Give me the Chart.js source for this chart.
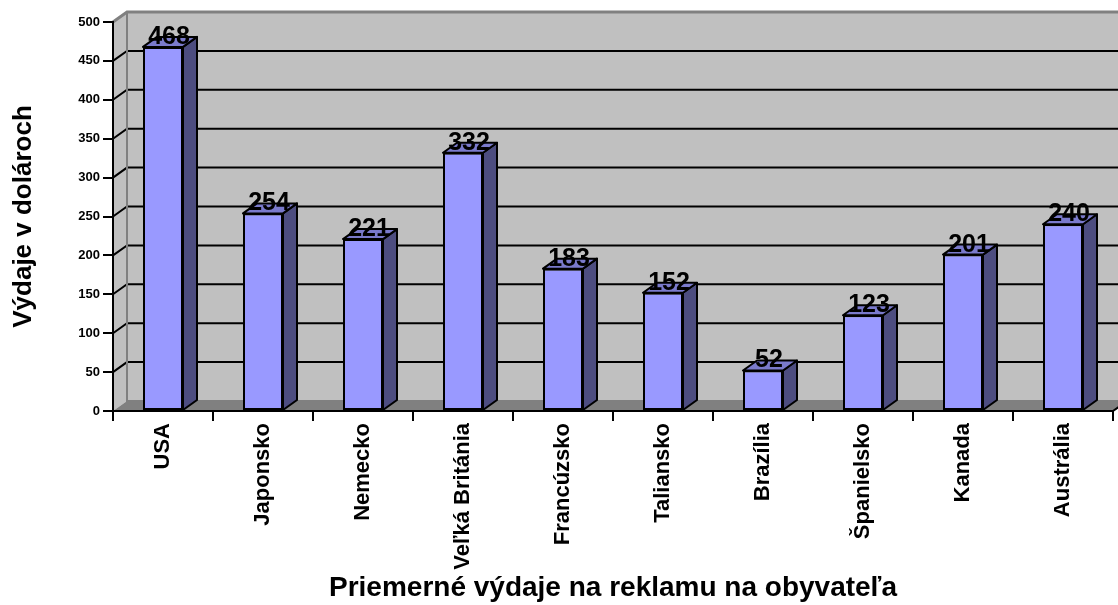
<!DOCTYPE html>
<html>
<head>
<meta charset="utf-8">
<title>Priemerné výdaje na reklamu</title>
<script src="https://cdn.jsdelivr.net/npm/chart.js@4"></script>
<style>
  body { margin: 0; background: #ffffff; }
  #wrap { width: 1118px; height: 605px; }
</style>
</head>
<body>
<div id="wrap"><canvas id="myChart" width="1118" height="605"></canvas></div>
<script>
// data
const krajiny = ["USA", "Japonsko", "Nemecko", "Veľká Británia", "Francúzsko", "Taliansko", "Brazília", "Španielsko", "Kanada", "Austrália"];
const vydaje = [468, 254, 221, 332, 183, 152, 52, 123, 201, 240];
const yMin = 0;
const yMax = 500;
const yKrok = 50;

const osX = "Priemerné výdaje na reklamu na obyvateľa";
const osY = "Výdaje v dolároch";

const FONT = "'Liberation Sans', Arial, sans-serif";
// hlbka 3D efektu
const DX = 14;
const DY = -10;

const stena = {
    id: "stena",
    beforeDraw(chart) {
        const c = chart.ctx;
        const a = chart.chartArea;
        const ys = chart.scales.y;
        c.save();
        // zadna stena
        c.fillStyle = "#c0c0c0";
        c.fillRect(a.left + DX, a.top + DY, a.right - a.left, a.bottom - a.top);
        // lava stena
        c.beginPath();
        c.moveTo(a.left, a.top);
        c.lineTo(a.left + DX, a.top + DY);
        c.lineTo(a.left + DX, a.bottom + DY);
        c.lineTo(a.left, a.bottom);
        c.closePath();
        c.fill();
        // podlaha
        c.fillStyle = "#808080";
        c.beginPath();
        c.moveTo(a.left, a.bottom);
        c.lineTo(a.left + DX, a.bottom + DY);
        c.lineTo(a.right + DX, a.bottom + DY);
        c.lineTo(a.right, a.bottom);
        c.closePath();
        c.fill();
        // mriezka
        c.strokeStyle = "#000000";
        c.lineWidth = 2;
        ys.ticks.forEach(function (t) {
            if (t.value <= yMin || t.value >= yMax) return;
            const y = ys.getPixelForValue(t.value);
            c.beginPath();
            c.moveTo(a.left, y);
            c.lineTo(a.left + DX, y + DY);
            c.lineTo(a.right + DX, y + DY);
            c.stroke();
        });
        // okraj steny
        c.strokeStyle = "#808080";
        c.lineWidth = 3;
        c.beginPath();
        c.moveTo(a.left, a.top);
        c.lineTo(a.left + DX, a.top + DY);
        c.lineTo(a.right + DX, a.top + DY);
        c.stroke();
        c.lineWidth = 2;
        c.beginPath();
        c.moveTo(a.left + DX, a.top + DY);
        c.lineTo(a.left + DX, a.bottom + DY);
        c.lineTo(a.right + DX, a.bottom + DY);
        c.stroke();
        c.strokeStyle = "#000000";
        c.beginPath();
        c.moveTo(a.right, a.bottom);
        c.lineTo(a.right + DX, a.bottom + DY);
        c.stroke();
        c.restore();
    },
    afterDatasetsDraw(chart) {
        const c = chart.ctx;
        const meta = chart.getDatasetMeta(0);
        c.save();
        c.lineWidth = 2;
        c.strokeStyle = "#000000";
        c.lineJoin = "round";
        meta.data.forEach(function (bar, i) {
            const l = bar.x - bar.width / 2;
            const r = bar.x + bar.width / 2;
            const top = bar.y;
            const base = bar.base;
            // bok
            c.fillStyle = "#4d4d80";
            c.beginPath();
            c.moveTo(r, top);
            c.lineTo(r + DX, top + DY);
            c.lineTo(r + DX, base + DY);
            c.lineTo(r, base);
            c.closePath();
            c.fill();
            c.stroke();
            // vrch
            c.fillStyle = "#7a7acc";
            c.beginPath();
            c.moveTo(l, top);
            c.lineTo(l + DX, top + DY);
            c.lineTo(r + DX, top + DY);
            c.lineTo(r, top);
            c.closePath();
            c.fill();
            c.stroke();
            // hodnota
            c.fillStyle = "#000000";
            c.font = "bold 25px " + FONT;
            c.textAlign = "center";
            c.textBaseline = "middle";
            c.fillText(String(vydaje[i]), bar.x + 6, top - 10);
        });
        c.restore();
    }
};

const ctx = document.getElementById("myChart");
new Chart(ctx, {
    type: "bar",
    data: {
        labels: krajiny,
        datasets: [{
            data: vydaje,
            backgroundColor: "#9999ff",
            borderColor: "#000000",
            borderWidth: 2,
            borderSkipped: false,
            barPercentage: 0.4,
            categoryPercentage: 1.0
        }]
    },
    options: {
        responsive: false,
        animation: false,
        devicePixelRatio: 1,
        layout: { padding: { left: 0, right: 5, top: 22, bottom: 0 } },
        plugins: {
            legend: { display: false },
            tooltip: { enabled: false }
        },
        scales: {
            x: {
                afterFit(s) { s.height = 194; },
                grid: {
                    offset: true,
                    drawOnChartArea: false,
                    color: "#000000",
                    lineWidth: 2,
                    tickLength: 10
                },
                border: { display: true, color: "#000000", width: 2 },
                ticks: {
                    color: "#000000",
                    minRotation: 90,
                    maxRotation: 90,
                    padding: 2,
                    font: { family: FONT, size: 22, weight: "bold" }
                },
                title: {
                    display: true,
                    text: osX,
                    color: "#000000",
                    padding: { top: 0, bottom: 0 },
                    font: { family: FONT, size: 28, weight: "bold" }
                }
            },
            y: {
                min: yMin,
                max: yMax,
                afterFit(s) { s.width = 113; },
                grid: {
                    drawOnChartArea: false,
                    color: "#000000",
                    lineWidth: 2,
                    tickLength: 10
                },
                border: { display: true, color: "#000000", width: 2 },
                ticks: {
                    stepSize: yKrok,
                    color: "#000000",
                    padding: 3,
                    font: { family: FONT, size: 13, weight: "bold" }
                },
                title: {
                    display: true,
                    text: osY,
                    color: "#000000",
                    padding: { top: 8, bottom: 0 },
                    font: { family: FONT, size: 26, weight: "bold" }
                }
            }
        }
    },
    plugins: [stena]
});
</script>
</body>
</html>
